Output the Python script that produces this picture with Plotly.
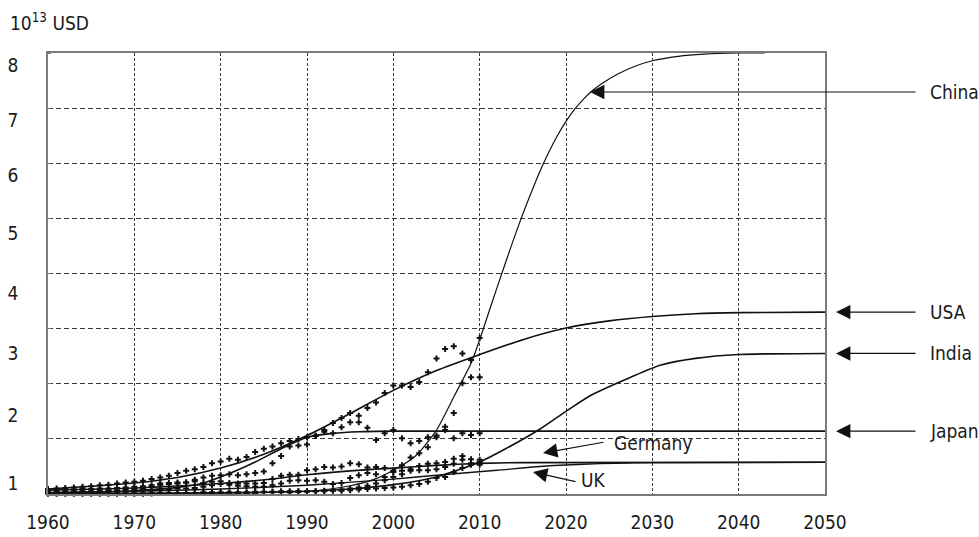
import plotly.graph_objects as go

# ---- observed yearly values (units of 10^13 USD grid steps), 1960-2010 ----
YEARS = list(range(1960, 2011))

USA_PTS = [0.09, 0.10, 0.11, 0.12, 0.13, 0.14, 0.16, 0.17, 0.19, 0.21,
           0.22, 0.24, 0.27, 0.30, 0.33, 0.38, 0.42, 0.45, 0.49, 0.56,
           0.59, 0.64, 0.62, 0.67, 0.76, 0.82, 0.86, 0.92, 0.96, 1.00,
           1.03, 1.06, 1.16, 1.29, 1.38, 1.47, 1.42, 1.56, 1.66, 1.83,
           1.97, 1.97, 1.94, 2.03, 2.21, 2.46, 2.63, 2.68, 2.55, 2.12,
           2.12]
JAPAN_PTS = [0.02, 0.02, 0.03, 0.03, 0.04, 0.04, 0.05, 0.06, 0.07, 0.08,
             0.09, 0.10, 0.13, 0.17, 0.18, 0.19, 0.21, 0.26, 0.30, 0.33,
             0.34, 0.36, 0.34, 0.36, 0.38, 0.41, 0.56, 0.69, 0.86, 0.88,
             0.90, 1.05, 1.13, 1.10, 1.21, 1.30, 1.30, 1.20, 0.98, 1.10,
             1.16, 1.01, 0.92, 0.96, 1.03, 1.06, 1.16, 1.01, 1.10, 1.07,
             1.10]
GERMANY_PTS = [0.07, 0.07, 0.08, 0.08, 0.09, 0.09, 0.10, 0.10, 0.11, 0.12,
               0.13, 0.14, 0.16, 0.19, 0.20, 0.21, 0.21, 0.23, 0.20, 0.22,
               0.23, 0.20, 0.19, 0.19, 0.19, 0.20, 0.27, 0.33, 0.35, 0.35,
               0.43, 0.45, 0.49, 0.48, 0.50, 0.56, 0.54, 0.48, 0.49, 0.47,
               0.42, 0.42, 0.45, 0.51, 0.55, 0.56, 0.58, 0.64, 0.69, 0.63,
               0.62]
UK_PTS = [0.04, 0.04, 0.04, 0.05, 0.05, 0.05, 0.05, 0.05, 0.05, 0.05,
          0.06, 0.07, 0.07, 0.08, 0.09, 0.10, 0.10, 0.11, 0.13, 0.16,
          0.18, 0.17, 0.15, 0.14, 0.13, 0.13, 0.16, 0.19, 0.24, 0.25,
          0.24, 0.25, 0.22, 0.18, 0.20, 0.29, 0.34, 0.38, 0.36, 0.31,
          0.31, 0.36, 0.42, 0.43, 0.43, 0.45, 0.49, 0.55, 0.62, 0.53,
          0.53]
CHINA_PTS = [0.01, 0.01, 0.01, 0.01, 0.01, 0.01, 0.01, 0.01, 0.01, 0.01,
             0.01, 0.01, 0.01, 0.02, 0.02, 0.02, 0.02, 0.02, 0.02, 0.02,
             0.02, 0.02, 0.02, 0.02, 0.02, 0.03, 0.03, 0.03, 0.03, 0.04,
             0.04, 0.05, 0.06, 0.07, 0.08, 0.10, 0.12, 0.15, 0.19, 0.25,
             0.40, 0.52, 0.66, 0.74, 0.85, 1.03, 1.22, 1.47, 2.01, 2.43,
             2.83]
INDIA_PTS = [0.01, 0.01, 0.01, 0.01, 0.01, 0.01, 0.01, 0.01, 0.01, 0.01,
             0.01, 0.01, 0.02, 0.02, 0.02, 0.02, 0.02, 0.02, 0.03, 0.03,
             0.03, 0.03, 0.03, 0.03, 0.04, 0.04, 0.04, 0.05, 0.05, 0.05,
             0.05, 0.05, 0.05, 0.06, 0.06, 0.07, 0.08, 0.09, 0.10, 0.11,
             0.12, 0.13, 0.16, 0.18, 0.22, 0.29, 0.31, 0.40, 0.47, 0.56,
             0.58]

# ---- fitted trajectories (year, value) ----
CHINA_FIT_X = [1960, 1970, 1980, 1990, 1995, 1998, 2000, 2002.5, 2005, 2007, 2009,
               2010, 2011, 2012, 2013, 2014, 2015, 2016, 2017, 2018, 2019,
               2020, 2021, 2022, 2023, 2024, 2026, 2028, 2030, 2033, 2036, 2040, 2043]
CHINA_FIT_Y = [0.0, 0.01, 0.02, 0.05, 0.15, 0.28, 0.43, 0.68, 1.16, 1.76, 2.37,
               2.80, 3.27, 3.74, 4.20, 4.65, 5.08, 5.48, 5.86, 6.20, 6.50,
               6.76, 6.98, 7.16, 7.31, 7.43, 7.62, 7.76, 7.86, 7.94, 7.98, 8.0, 8.0]
USA_FIT_X = [1960, 1965, 1970, 1975, 1980, 1985, 1990, 1995, 2000, 2005, 2010,
             2015, 2020, 2025, 2030, 2035, 2040, 2050]
USA_FIT_Y = [0.09, 0.14, 0.20, 0.30, 0.47, 0.72, 1.06, 1.46, 1.88, 2.24, 2.53,
             2.80, 3.01, 3.14, 3.22, 3.27, 3.29, 3.30]
INDIA_FIT_X = [1960, 1970, 1980, 1990, 1995, 2000, 2005, 2010, 2013, 2017, 2020,
               2023, 2027.5, 2031, 2035, 2040, 2050]
INDIA_FIT_Y = [0.0, 0.01, 0.02, 0.05, 0.09, 0.17, 0.31, 0.58, 0.82, 1.18, 1.50,
               1.80, 2.12, 2.34, 2.46, 2.53, 2.55]
JAPAN_FIT_X = [1960, 1965, 1970, 1975, 1978, 1981, 1984, 1987, 1990, 1993, 1996,
               2000, 2050]
JAPAN_FIT_Y = [0.02, 0.03, 0.06, 0.12, 0.20, 0.37, 0.58, 0.82, 1.03, 1.10, 1.13,
               1.14, 1.14]
GERMANY_FIT_X = [1960, 1970, 1980, 1987, 1990, 1995, 2000, 2005, 2010, 2015, 2050]
GERMANY_FIT_Y = [0.07, 0.11, 0.19, 0.29, 0.35, 0.42, 0.47, 0.52, 0.555, 0.57, 0.575]
UK_FIT_X = [1960, 1970, 1980, 1990, 2000, 2005, 2012, 2017, 2022, 2030, 2050]
UK_FIT_Y = [0.03, 0.05, 0.09, 0.16, 0.27, 0.34, 0.43, 0.50, 0.54, 0.57, 0.575]

X_TICKS = [1960, 1970, 1980, 1990, 2000, 2010, 2020, 2030, 2040, 2050]
Y_LABELS = ["1", "2", "3", "4", "5", "6", "7", "8"]
Y_LABEL_POS = [0.2, 1.43, 2.55, 3.64, 4.73, 5.78, 6.78, 7.77]

INK = "#111111"
GRID = "#3a3a3a"
FONT = "DejaVu Sans Condensed, sans-serif"

fig = go.Figure()

for pts in [USA_PTS, JAPAN_PTS, GERMANY_PTS, UK_PTS, CHINA_PTS, INDIA_PTS]:
    fig.add_trace(go.Scatter(
        x=YEARS, y=pts, mode="markers",
        marker=dict(symbol="cross", size=5, color=INK),
        cliponaxis=False, showlegend=False, hoverinfo="skip"))

fits = [(CHINA_FIT_X, CHINA_FIT_Y, 1.2), (USA_FIT_X, USA_FIT_Y, 1.6),
        (INDIA_FIT_X, INDIA_FIT_Y, 1.6), (JAPAN_FIT_X, JAPAN_FIT_Y, 1.6),
        (GERMANY_FIT_X, GERMANY_FIT_Y, 1.6), (UK_FIT_X, UK_FIT_Y, 1.4)]
for fx, fy, w in fits:
    fig.add_trace(go.Scatter(
        x=fx, y=fy, mode="lines",
        line=dict(color=INK, width=w, shape="spline", smoothing=0.7),
        showlegend=False, hoverinfo="skip"))

# plot area in pixels: x 48..825, y 53..494
L, R, T, B = 48, 154, 53, 43
W, H = 979, 537
PW, PH = W - L - R, H - T - B


def px(xp):
    return (xp - L) / PW


def py(yp):
    return (H - B - yp) / PH


font = dict(family=FONT, size=19, color="#1a1a1a")
anns = []

# axis unit
anns.append(dict(text="10<sup>13</sup> USD", xref="paper", yref="paper",
                 x=px(8), y=py(22), xanchor="left", yanchor="middle",
                 showarrow=False, font=font))

# series labels with arrows
arrow = dict(showarrow=True, arrowhead=2, arrowsize=2.4, arrowwidth=1.2,
             arrowcolor=INK, text="", axref="pixel", ayref="pixel")
anns.append(dict(arrow, xref="paper", yref="paper", x=px(590), y=py(92), ax=327, ay=0))
anns.append(dict(arrow, xref="paper", yref="y", x=px(836), y=USA_FIT_Y[-1], ax=81, ay=0))
anns.append(dict(arrow, xref="paper", yref="y", x=px(836), y=INDIA_FIT_Y[-1], ax=81, ay=0))
anns.append(dict(arrow, xref="paper", yref="y", x=px(836), y=JAPAN_FIT_Y[-1], ax=81, ay=0))
anns.append(dict(arrow, xref="paper", yref="paper", x=px(543), y=py(453), ax=62, ay=-11))
anns.append(dict(arrow, xref="paper", yref="paper", x=px(533), y=py(472), ax=44, ay=10))

for name, xp, yv, yr in [("China", 928, py(92), "paper"),
                         ("USA", 928, USA_FIT_Y[-1], "y"),
                         ("India", 928, INDIA_FIT_Y[-1], "y"),
                         ("Japan", 928, JAPAN_FIT_Y[-1], "y"),
                         ("Germany", 612, py(443), "paper"),
                         ("UK", 579, py(480), "paper")]:
    anns.append(dict(text=name, xref="paper", yref=yr, x=px(xp), y=yv,
                     xanchor="left", yanchor="middle", showarrow=False, font=font))

fig.update_layout(
    width=W, height=H,
    margin=dict(l=L, r=R, t=T, b=B),
    paper_bgcolor="white", plot_bgcolor="white",
    font=font,
    annotations=anns,
    xaxis=dict(range=[1960, 2050], tickvals=X_TICKS, ticktext=[str(v) for v in X_TICKS],
               showgrid=True, gridcolor=GRID, gridwidth=1, griddash="3px,2px",
               showline=True, linecolor="#7a7a7a", linewidth=1.5, mirror=True,
               ticks="", zeroline=False, ticklabelstandoff=10, tickfont=font,
               automargin=False),
    yaxis=dict(range=[0, 8], tickvals=Y_LABEL_POS, ticktext=Y_LABELS,
               showgrid=False, zeroline=False, ticks="",
               showline=True, linecolor="#7a7a7a", linewidth=1.5, mirror=True,
               ticklabelstandoff=24, tickfont=font, automargin=False,
               minor=dict(tick0=0, dtick=1, showgrid=True, gridcolor=GRID,
                          gridwidth=1, griddash="5px,3px", ticks="inside",
                          ticklen=3, tickcolor="#7a7a7a")),
)

fig.write_html("out.html")
